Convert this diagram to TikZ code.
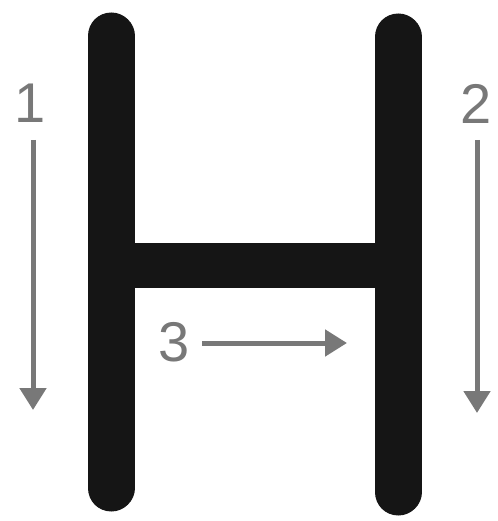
\documentclass[tikz,border=0pt]{standalone}
\usepackage{fontspec}
\setmainfont{Liberation Sans}
\usepackage{tikz}
\usetikzlibrary{arrows.meta}

\definecolor{barblack}{HTML}{151515}
\definecolor{arrowgray}{HTML}{787878}

\begin{document}
\begin{tikzpicture}[
    x=1pt, y=-1pt,
    stroke/.style={barblack, line width=47pt, line cap=round},
    crossbar/.style={barblack, line width=45pt},
    order/.style={arrowgray, line width=5pt, -{Triangle[width=26pt, length=22pt]}},
    num/.style={text=arrowgray, inner sep=0pt, font=\fontsize{56}{60}\selectfont}
]
\useasboundingbox (0,0) rectangle (497,521);

% the letter
\coordinate (lt) at (111,36);
\coordinate (lb) at (111,488);
\coordinate (rt) at (398,37);
\coordinate (rb) at (398,492);
\coordinate (cl) at (111,265.5);
\coordinate (cr) at (398,265.5);
\draw[stroke] (lt) -- (lb);
\draw[stroke] (rt) -- (rb);
\draw[crossbar] (cl) -- (cr);

% stroke order
\node[num] (n1) at (30,103) {1};
\node[num] (n2) at (476,104) {2};
\node[num] (n3) at (174,342) {3};
\coordinate (a1s) at (33,140);
\coordinate (a1e) at (33,410);
\coordinate (a2s) at (477,140);
\coordinate (a2e) at (477,413);
\coordinate (a3s) at (202,343);
\coordinate (a3e) at (347,343);
\draw[order] (a1s) -- (a1e);
\draw[order] (a2s) -- (a2e);
\draw[order] (a3s) -- (a3e);
\end{tikzpicture}
\end{document}
